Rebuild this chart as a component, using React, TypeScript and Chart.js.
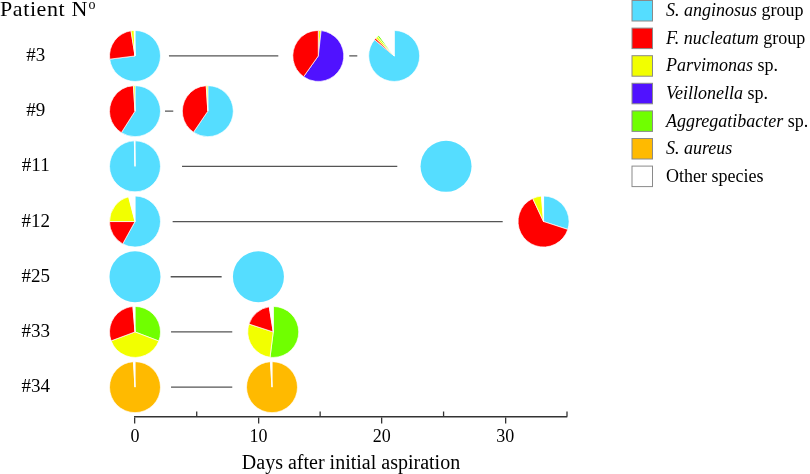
import React, { useEffect, useRef } from "react";
import { Chart, registerables } from "chart.js";

Chart.register(...registerables);

// ---------- data ----------
const patients = ["#3", "#9", "#11", "#12", "#25", "#33", "#34"];

const speciesItalic = ["S. anginosus", "F. nucleatum", "Parvimonas", "Veillonella", "Aggregatibacter", "S. aureus", ""];
const speciesSuffix = [" group", " group", " sp.", " sp.", " sp.", "", "Other species"];
const speciesColors = ["#55DDFF", "#FF0000", "#F2FF00", "#5012FF", "#70FF00", "#FFBA00", "#FFFFFF"];

// each sample: row index (patient), day, slices [speciesIndex, percent] clockwise from 12 o'clock
const sampleRow = [0, 0, 0, 1, 1, 2, 2, 3, 3, 4, 4, 5, 5, 6, 6];
const sampleDay = [0, 14.85, 21.0, 0, 5.9, 0, 25.2, 0, 33.1, 0, 10.0, 0, 11.2, 0, 11.1];
const sampleSlices: [number, number][][] = [
  [[0, 73], [1, 24.5], [2, 2], [6, 0.5]],
  [[2, 1.8], [3, 58], [1, 40.2]],
  [[0, 86], [1, 1.2], [2, 1.5], [4, 1.2], [6, 10.1]],
  [[0, 59], [1, 40], [2, 1]],
  [[0, 59.5], [1, 39.5], [2, 1]],
  [[0, 99.6], [6, 0.4]],
  [[0, 100]],
  [[0, 58], [1, 17], [2, 21], [6, 4]],
  [[0, 30], [1, 63], [2, 5.7], [6, 1.3]],
  [[0, 100]],
  [[0, 100]],
  [[4, 30.8], [2, 38.5], [1, 29.4], [6, 1.3]],
  [[4, 52], [2, 28], [1, 17.5], [6, 2.5]],
  [[5, 99], [6, 1]],
  [[5, 99], [6, 1]],
];

// connector lines between samples: row, start day, end day
const connectorRow = [0, 0, 1, 2, 3, 4, 5, 6];
const connectorStart = [2.75, 17.36, 2.43, 3.81, 3.05, 2.89, 2.92, 2.92];
const connectorEnd = [11.61, 18.01, 3.1, 21.25, 29.79, 7.02, 7.88, 7.88];

const xTicks = [0, 5, 10, 15, 20, 25, 30, 35];

const SERIF = "'Liberation Serif', 'Times New Roman', serif";

const piePlugin = {
  id: "piePlugin",
  afterDatasetsDraw(chart: any) {
    const { ctx, scales } = chart;
    const xs = scales.x;
    const ys = scales.y;
    const r = 25.5;
    ctx.save();
    for (let i = 0; i < sampleDay.length; i++) {
      const cx = xs.getPixelForValue(sampleDay[i]);
      const cy = ys.getPixelForValue(sampleRow[i]);
      const slices = sampleSlices[i];
      const total = slices.reduce((s, v) => s + v[1], 0);
      let a = -Math.PI / 2;
      for (const [sp, v] of slices) {
        const da = (v / total) * Math.PI * 2;
        ctx.beginPath();
        if (slices.length > 1) ctx.moveTo(cx, cy);
        ctx.arc(cx, cy, r, a, a + da);
        ctx.closePath();
        ctx.fillStyle = speciesColors[sp];
        ctx.fill();
        if (slices.length > 1) {
          ctx.strokeStyle = "#FFFFFF";
          ctx.lineWidth = 0.7;
          ctx.stroke();
        }
        a += da;
      }
    }
    ctx.restore();
  },
  afterDraw(chart: any) {
    const { ctx, scales, chartArea } = chart;
    const xs = scales.x;
    ctx.save();
    // minor upward ticks
    ctx.strokeStyle = "#333";
    ctx.lineWidth = 1.3;
    for (const v of xTicks) {
      if (v % 10 !== 0) {
        const px = xs.getPixelForValue(v);
        ctx.beginPath();
        ctx.moveTo(px, chartArea.bottom);
        ctx.lineTo(px, chartArea.bottom - 5);
        ctx.stroke();
      }
    }
    // header
    ctx.fillStyle = "#000";
    ctx.textBaseline = "alphabetic";
    ctx.textAlign = "left";
    ctx.font = `22px ${SERIF}`;
    (ctx as any).letterSpacing = "0.6px";
    ctx.fillText("Patient N", 0, 16);
    const w = ctx.measureText("Patient N").width;
    (ctx as any).letterSpacing = "0px";
    ctx.font = `14px ${SERIF}`;
    ctx.fillText("o", w + 0.5, 9);
    // legend
    const lx = 632;
    for (let i = 0; i < speciesColors.length; i++) {
      const top = 0.5 + i * 27.6;
      ctx.fillStyle = speciesColors[i];
      ctx.fillRect(lx, top, 20.5, 20.5);
      ctx.strokeStyle = "#8a8a8a";
      ctx.lineWidth = 1;
      ctx.strokeRect(lx, top, 20.5, 20.5);
      ctx.fillStyle = "#000";
      ctx.textBaseline = "middle";
      let tx = 666;
      const ty = top + 11;
      if (speciesItalic[i]) {
        ctx.font = `italic 18px ${SERIF}`;
        ctx.fillText(speciesItalic[i], tx, ty);
        tx += ctx.measureText(speciesItalic[i]).width;
      }
      if (speciesSuffix[i]) {
        ctx.font = `18px ${SERIF}`;
        ctx.fillText(speciesSuffix[i], tx, ty);
      }
    }
    ctx.restore();
  },
};

export default function App() {
  const ref = useRef<HTMLCanvasElement | null>(null);
  useEffect(() => {
    if (!ref.current) return;
    const datasets = connectorRow.map((row, i) => ({
      type: "line" as const,
      data: [
        { x: connectorStart[i], y: row },
        { x: connectorEnd[i], y: row },
      ],
      borderColor: "#555555",
      borderWidth: 1.3,
      pointRadius: 0,
      fill: false,
    }));
    const chart = new Chart(ref.current, {
      type: "line",
      data: { datasets },
      options: {
        animation: false,
        responsive: false,
        layout: { padding: { left: 0, right: 243, top: 0, bottom: 0 } },
        plugins: { legend: { display: false }, tooltip: { enabled: false } },
        scales: {
          x: {
            type: "linear",
            min: 0,
            max: 35,
            afterFit: (s: any) => {
              s.height = 57.5;
            },
            afterBuildTicks: (s: any) => {
              s.ticks = xTicks.map((v) => ({ value: v }));
            },
            ticks: {
              autoSkip: false,
              maxRotation: 0,
              padding: 3,
              color: "#000",
              font: { family: SERIF, size: 18 },
              callback: (v: any) => (Number(v) % 10 === 0 ? String(v) : ""),
            },
            grid: {
              display: true,
              drawOnChartArea: false,
              drawTicks: true,
              tickLength: 7,
              lineWidth: 1.3,
              color: (c: any) => (c.tick && c.tick.value % 10 === 0 ? "#333" : "rgba(0,0,0,0)"),
            },
            border: { display: true, color: "#333", width: 1.5 },
            title: {
              display: true,
              text: "Days after initial aspiration",
              color: "#000",
              font: { family: SERIF, size: 20, lineHeight: 1.05 },
              padding: { top: 0, bottom: 0 },
            },
          },
          y: {
            type: "linear",
            reverse: true,
            min: -0.807,
            max: 6.532,
            afterFit: (s: any) => {
              s.width = 135;
            },
            afterBuildTicks: (s: any) => {
              s.ticks = patients.map((_, i) => ({ value: i }));
            },
            ticks: {
              crossAlign: "center",
              padding: 0,
              color: "#000",
              font: { family: SERIF, size: 19 },
              callback: (v: any) => patients[Number(v)] ?? "",
            },
            grid: { display: false, drawTicks: true, tickLength: 85 },
            border: { display: false },
          },
        },
      },
      plugins: [piePlugin],
    } as any);
    return () => chart.destroy();
  }, []);
  return (
    <div style={{ position: "fixed", left: 0, top: 0, width: 810, height: 474, background: "#fff" }}>
      <canvas ref={ref} width={810} height={474} />
    </div>
  );
}
